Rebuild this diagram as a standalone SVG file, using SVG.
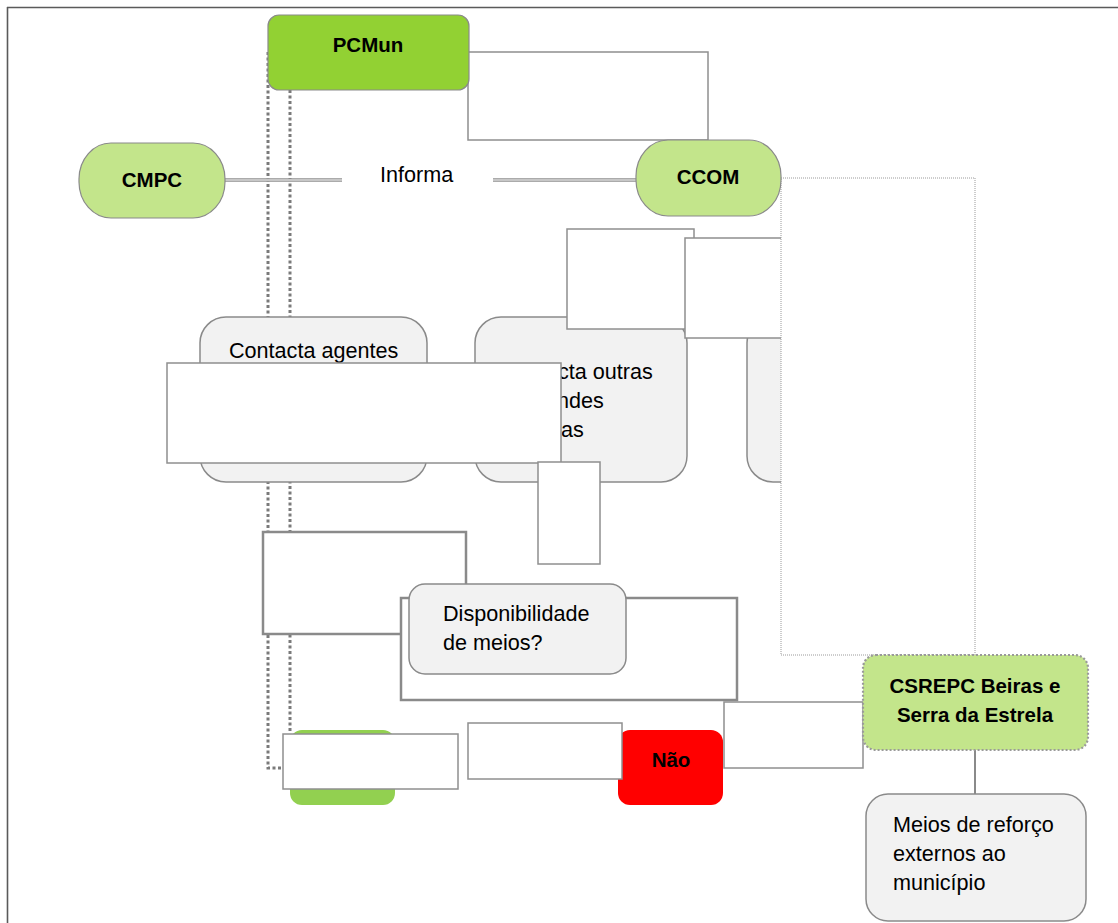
<svg xmlns="http://www.w3.org/2000/svg" width="1118" height="923" viewBox="0 0 1118 923">
  <defs>
    <style>
      text { font-family: "Liberation Sans", Arial, sans-serif; fill: #000; }
      .bold { font-weight: bold; font-size: 20.5px; }
      .reg { font-size: 21.6px; }
      .mid { text-anchor: middle; }
      .dark-green { fill: #92d133; stroke: #8a8a8a; stroke-width: 1.2; }
      .light-green { fill: #c3e58b; stroke: #8a8a8a; stroke-width: 1.2; }
      .grey-box { fill: #f2f2f2; stroke: #8a8a8a; stroke-width: 1.5; }
      .panel { fill: #ffffff; stroke: #8f8f8f; stroke-width: 1.5; }
      .panel-thick { fill: #ffffff; stroke: #8a8a8a; stroke-width: 2.5; }
      .dots { fill: none; stroke: #7a7a7a; stroke-width: 3; stroke-dasharray: 3 2.5; }
      .fine-dots { stroke: #9a9a9a; stroke-width: 1; stroke-dasharray: 1 1; }
      .dbl-outer { stroke: #8f8f8f; stroke-width: 3.5; fill: none; }
      .dbl-inner { stroke: #ffffff; stroke-width: 1.2; fill: none; }
    </style>
  </defs>

  <rect x="0" y="0" width="1118" height="923" fill="#ffffff"/>

  <!-- page frame -->
  <g id="frame" stroke="#5a5a5a" stroke-width="1.6" fill="none">
    <line x1="7" y1="7.5" x2="1118" y2="7.5"/>
    <line x1="7.5" y1="7" x2="7.5" y2="923"/>
  </g>

  <!-- connectors -->
  <g id="connectors">
    <!-- dotted links down the left side -->
    <path class="dots" d="M268 52 V768 H284"/>
    <path class="dots" d="M290 90 V733"/>
    <!-- double link CMPC - Informa - CCOM -->
    <line class="dbl-outer" x1="225" y1="180" x2="342" y2="180"/>
    <line class="dbl-inner" x1="225" y1="180" x2="342" y2="180"/>
    <line class="dbl-outer" x1="493" y1="180" x2="636" y2="180"/>
    <line class="dbl-inner" x1="493" y1="180" x2="636" y2="180"/>
    <!-- PCMun to CCOM elbow -->
    <rect class="panel" x="468" y="52" width="240" height="88"/>
    <!-- CSREPC to external means -->
    <line x1="975" y1="750" x2="975" y2="794" stroke="#8a8a8a" stroke-width="2"/>
  </g>

  <g id="label-informa">
    <text class="reg" x="380" y="182">Informa</text>
  </g>

  <g id="node-pcmun">
    <rect class="dark-green" x="268" y="15" width="201" height="75" rx="11"/>
    <text class="bold mid" x="368" y="52">PCMun</text>
  </g>

  <g id="node-cmpc">
    <rect class="light-green" x="79" y="143" width="146" height="75" rx="32" ry="36"/>
    <text class="bold mid" x="152" y="187">CMPC</text>
  </g>

  <g id="node-contacta-agentes">
    <rect class="grey-box" x="200" y="317" width="227" height="165" rx="26"/>
    <text class="reg" x="229" y="358">Contacta agentes</text>
  </g>

  <g id="node-contacta-outras">
    <rect class="grey-box" x="475" y="317" width="212" height="165" rx="26"/>
    <text class="reg" x="558" y="379">cta outras</text>
    <text class="reg" x="557" y="408">ndes</text>
    <text class="reg" x="561" y="437">as</text>
  </g>

  <g id="node-third">
    <rect class="grey-box" x="747" y="317" width="220" height="165" rx="26"/>
  </g>

  <g id="panels-upper">
    <rect class="panel" x="567" y="229" width="127" height="100"/>
    <rect class="panel" x="685" y="238" width="100" height="100"/>
    <rect class="panel" x="167" y="363" width="394" height="100"/>
    <rect class="panel" x="538" y="462" width="62" height="102"/>
  </g>

  <g id="link-ccom-csrepc">
    <rect class="fine-dots" fill="#ffffff" x="781" y="178" width="194" height="477"/>
  </g>

  <g id="node-ccom">
    <rect class="light-green" x="636" y="140" width="145" height="76" rx="32" ry="36"/>
    <text class="bold mid" x="708" y="184">CCOM</text>
  </g>

  <g id="panels-middle">
    <rect class="panel-thick" x="263" y="532" width="203" height="102"/>
    <rect class="panel-thick" x="401" y="598" width="336" height="102"/>
  </g>

  <g id="node-disponibilidade">
    <rect class="grey-box" x="409" y="584" width="217" height="90" rx="16"/>
    <text class="reg" x="443" y="621">Disponibilidade</text>
    <text class="reg" x="443" y="650">de meios?</text>
  </g>

  <g id="node-sim">
    <rect x="290" y="730" width="105" height="75" rx="12" fill="#92d050"/>
    <rect class="panel" x="283" y="734" width="175" height="55"/>
  </g>

  <g id="node-nao">
    <rect x="618" y="730" width="105" height="75" rx="12" fill="#ff0000"/>
    <text class="bold mid" x="671" y="767">Não</text>
    <rect class="panel" x="468" y="723" width="154" height="56"/>
    <rect class="panel" x="724" y="702" width="139" height="66"/>
  </g>

  <g id="node-csrepc">
    <rect x="863" y="655" width="225" height="95" rx="13" fill="#c3e58b" stroke="#9a9a9a" stroke-width="2.2" stroke-dasharray="2 2"/>
    <text class="bold mid" x="975" y="693">CSREPC Beiras e</text>
    <text class="bold mid" x="975" y="722">Serra da Estrela</text>
  </g>

  <g id="node-meios-reforco">
    <rect class="grey-box" x="866" y="794" width="220" height="127" rx="22"/>
    <text class="reg" x="893" y="832">Meios de reforço</text>
    <text class="reg" x="893" y="861">externos ao</text>
    <text class="reg" x="893" y="890">município</text>
  </g>
</svg>
